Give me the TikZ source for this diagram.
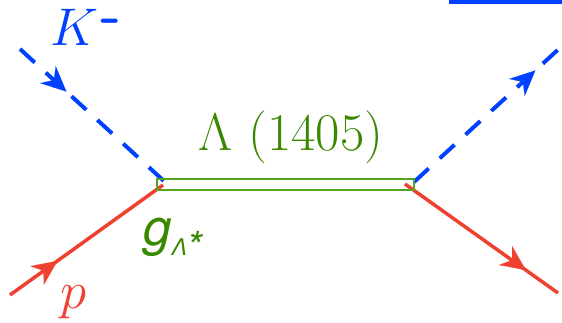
\RequirePackage{fix-cm}
\documentclass[tikz,border=0pt]{standalone}
\usepackage{fontspec}
\newfontfamily\heros{TeX Gyre Heros}
\usetikzlibrary{arrows.meta,decorations.markings}
\definecolor{kblue}{RGB}{0,64,255}
\definecolor{pred}{RGB}{240,64,48}
\definecolor{lgreen}{RGB}{58,135,0}
\definecolor{bgreen}{RGB}{85,165,30}
\begin{document}
\begin{tikzpicture}[x=1pt,y=-1pt,
  kaon/.style={kblue, line width=4pt, dash pattern=on 20pt off 15pt},
  proton/.style={pred, line width=3.5pt},
  midarrow/.style={postaction=decorate, decoration={markings,
    mark=at position #1 with {\arrow{Stealth[length=25pt,width=23pt,inset=8pt,line width=0.1pt]}}}},
  lbl/.style={font=\fontsize{53}{60}\selectfont, inner sep=0pt}
]
\useasboundingbox (0,0) rectangle (562,323);
% endpoints
\coordinate (kin) at (20,49);
\coordinate (vLk) at (165,182);
\coordinate (pin) at (10,295);
\coordinate (vLp) at (163,185);
\coordinate (vRk) at (414,182);
\coordinate (kout) at (562,46);
\coordinate (vRp) at (405,184);
\coordinate (pout) at (558,293);
% lines
\draw[kaon, midarrow=0.32] (kin) -- (vLk);
\draw[kaon, midarrow=0.82] (vRk) -- (kout);
\draw[proton, midarrow=0.31] (pin) -- (vLp);
\draw[proton, midarrow=0.79] (vRp) -- (pout);
% resonance box
\node[draw=bgreen, line width=2pt, minimum width=257pt, minimum height=11pt, inner sep=0pt] (lam) at (285.5,184.5) {};
% top-right fragment
\fill[kblue] (449,0) rectangle (562,4);
% labels
\node[lbl, kblue, anchor=base west] (kl) at (50,46) {$K$\kern2pt\raisebox{11pt}{\fontsize{58}{60}\selectfont\sffamily\bfseries -}};
\node[lbl, lgreen, anchor=base] (ll) at (291,151) {$\Lambda$ (1405)};
\node[inner sep=0pt, lgreen, anchor=base west] (gl) at (143,245) {\heros\itshape\fontsize{51}{55}\selectfont g\raisebox{-10pt}{\fontsize{23}{23}\selectfont Λ}\raisebox{-15pt}{\fontsize{40}{40}\selectfont *}};
\node[lbl, pred, anchor=base west] (pl) at (60,308) {$p$};
\end{tikzpicture}
\end{document}
